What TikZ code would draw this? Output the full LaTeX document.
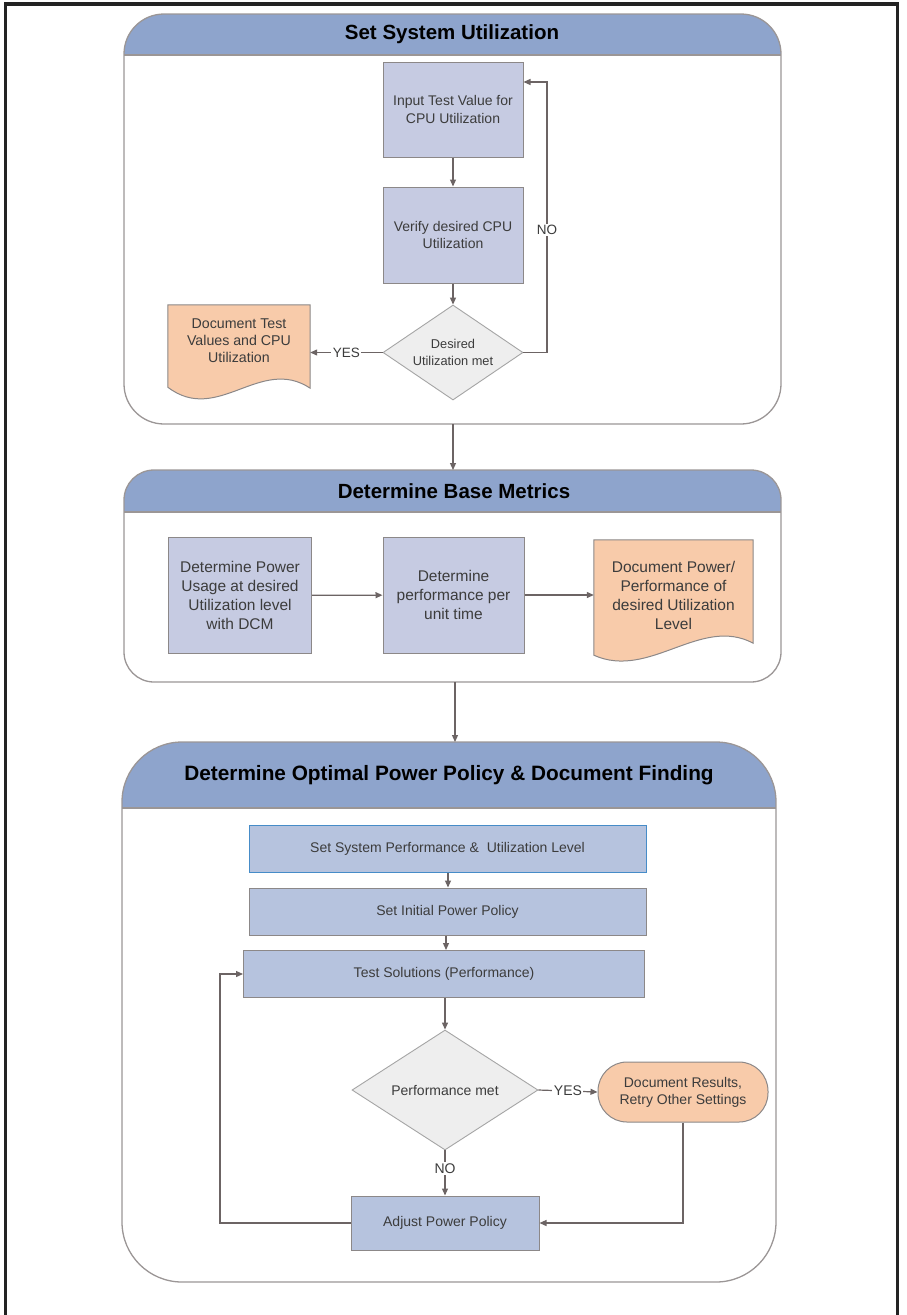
\documentclass[tikz,border=0pt]{standalone}
\usepackage{fontspec}
\setmainfont{Liberation Sans}
\usetikzlibrary{arrows.meta,shapes.geometric,calc}
\pgfdeclarelayer{bg}\pgfdeclarelayer{mid}
\pgfsetlayers{bg,mid,main}
\definecolor{hdr}{RGB}{142,164,204}
\definecolor{boxA}{RGB}{198,203,226}
\definecolor{boxB}{RGB}{182,195,222}
\definecolor{dia}{RGB}{238,238,238}
\definecolor{org}{RGB}{248,203,170}
\definecolor{edgec}{RGB}{140,136,136}
\definecolor{decedge}{RGB}{165,165,165}
\definecolor{connc}{RGB}{108,100,100}
\definecolor{txt}{RGB}{60,60,60}
\definecolor{framec}{RGB}{35,35,35}
\definecolor{secc}{RGB}{155,150,150}
\definecolor{bluedge}{RGB}{70,140,200}
\newcommand\myfs[2]{\fontsize{#1}{#2}\selectfont}
\tikzset{
 conn/.style={draw=connc, line width=1.2pt},
 arr/.style={conn, -{Triangle[length=7pt,width=6pt]}},
 procA/.style={draw=edgec, fill=boxA, line width=1pt, text=txt, align=center, inner sep=0pt},
 procB/.style={procA, fill=boxB},
 dec/.style={diamond, draw=decedge, fill=dia, line width=0.9pt, inner sep=0pt},
 doctext/.style={text=txt, align=center, inner sep=0pt},
 docshape/.style={draw=edgec, fill=org, line width=1pt},
 lbl/.style={text=txt, font=\myfs{13.5}{16}, fill=white, inner sep=1.5pt},
 title/.style={font=\bfseries\myfs{20.5}{24}, text=black},
 secline/.style={draw=secc, line width=1.3pt},
}
\begin{document}
\begin{tikzpicture}[x=1pt,y=-1pt]
\useasboundingbox (0,0) rectangle (906,1315);
% outer frame
\draw[framec, line width=3.5pt, line join=miter] (5.5,1320) -- (5.5,4) -- (897.5,4) -- (897.5,1320);

% section containers
\begin{pgfonlayer}{bg}
\begin{scope}
\clip[rounded corners=40] (124,14) rectangle (781,424);
\fill[white] (124,14) rectangle (781,424);
\fill[hdr] (124,14) rectangle (781,55);
\end{scope}
\draw[secline, rounded corners=40] (124,14) rectangle (781,424);
\draw[secline] (124,55) -- (781,55);

\begin{scope}
\clip[rounded corners=30] (124,470) rectangle (781,682);
\fill[white] (124,470) rectangle (781,682);
\fill[hdr] (124,470) rectangle (781,512);
\end{scope}
\draw[secline, rounded corners=30] (124,470) rectangle (781,682);
\draw[secline] (124,512) -- (781,512);

\begin{scope}
\clip[rounded corners=60] (122,742) rectangle (776,1282);
\fill[white] (122,742) rectangle (776,1282);
\fill[hdr] (122,742) rectangle (776,808);
\end{scope}
\draw[secline, rounded corners=60] (122,742) rectangle (776,1282);
\draw[secline] (122,808) -- (776,808);
\end{pgfonlayer}

% titles
\node[title] (ttl1) at (452,34) {Set System Utilization};
\node[title] (ttl2) at (454,491) {Determine Base Metrics};
\node[title, font=\bfseries\myfs{20.8}{24}] (ttl3) at (449,775) {Determine Optimal Power Policy \& Document Finding};

\coordinate (s1b) at (453,424);
\coordinate (s2t) at (453,470);
\coordinate (s2b) at (455,682);
\coordinate (s3t) at (455,742);

% ---------- section 1
\node[procA, font=\myfs{14}{17.5}, minimum width=140pt, minimum height=95pt] (in) at (453,109.5) {Input Test Value for\\CPU Utilization};
\node[procA, font=\myfs{14}{17.5}, minimum width=140pt, minimum height=96pt] (ver) at (453,235) {Verify desired CPU\\Utilization};
\node[dec, minimum width=140pt, minimum height=95pt, label={[doctext, font=\myfs{12.8}{17}]center:{Desired\\Utilization met}}] (d1) at (453,352.5) {};
\node[doctext, font=\myfs{14.2}{17}, minimum width=142pt, minimum height=72pt] (doc1) at (239,341) {Document Test\\Values and CPU\\Utilization};
\begin{pgfonlayer}{mid}
\path[docshape] (doc1.north west) -- (doc1.north east) -- ($(doc1.south east)+(0,11)$)
  .. controls ($(doc1.south west)!0.65!(doc1.south east)+(0,-22)$) and ($(doc1.south west)!0.35!(doc1.south east)+(0,48)$) .. ($(doc1.south west)+(0,10)$) -- cycle;
\end{pgfonlayer}

\draw[arr] (in) -- (ver);
\draw[arr] (ver) -- (d1);
\coordinate (noturn) at (547,82);
\draw[arr] (d1.east) -| (noturn) -- (noturn -| in.east);
\node[lbl] (nolbl1) at (547,230) {NO};
\draw[arr] (d1.west) -- node[lbl] (yeslbl1) {YES} (d1.west -| doc1.east);

\draw[arr] (s1b) -- (s2t);

% ---------- section 2
\node[procA, font=\myfs{15.5}{19}, minimum width=143pt, minimum height=116pt] (p1) at (240,595.5) {Determine Power\\Usage at desired\\Utilization level\\with DCM};
\node[procA, font=\myfs{15.5}{19}, minimum width=141pt, minimum height=116pt] (p2) at (453.5,595) {Determine\\performance per\\unit time};
\node[doctext, font=\myfs{15.5}{19}, minimum width=159pt, minimum height=110pt] (doc2) at (673.5,595) {Document Power/\\Performance of\\desired Utilization\\Level};
\begin{pgfonlayer}{mid}
\path[docshape] (doc2.north west) -- (doc2.north east) -- ($(doc2.south east)+(0,-7)$)
  .. controls ($(doc2.south west)!0.67!(doc2.south east)+(0,-35)$) and ($(doc2.south west)!0.35!(doc2.south east)+(0,30)$) .. ($(doc2.south west)+(0,5)$) -- cycle;
\end{pgfonlayer}
\draw[arr] (p1) -- (p2);
\draw[arr] (p2.east) -- (p2.east -| doc2.west);

\draw[arr] (s2b) -- (s3t);

% ---------- section 3
\node[procB, draw=bluedge, font=\myfs{14}{17}, minimum width=397pt, minimum height=47pt] (t1) at (447.5,848.5) {Set System Performance \&\ \ Utilization Level};
\node[procB, font=\myfs{14}{17}, minimum width=397pt, minimum height=47pt] (t2) at (447.5,911.5) {Set Initial Power Policy};
\node[procB, font=\myfs{14}{17}, minimum width=401pt, minimum height=47pt] (t3) at (444,974) {Test Solutions (Performance)};
\node[dec, minimum width=186pt, minimum height=120pt, label={[doctext, font=\myfs{14}{17}]center:{Performance met}}] (d2) at (445,1090) {};
\node[draw=edgec, fill=org, line width=1pt, rounded corners=29pt, minimum width=170pt, minimum height=60pt, text=txt, align=center, inner sep=0pt, font=\myfs{14}{17}] (ov) at (683,1092) {Document Results,\\Retry Other Settings};
\node[procB, font=\myfs{14}{17}, minimum width=188pt, minimum height=54pt] (adj) at (445,1223) {Adjust Power Policy};

\draw[arr] (t1.south -| 448,0) -- (t2.north -| 448,0);
\draw[arr] (t2.south -| 446,0) -- (t3.north -| 446,0);
\draw[arr] (t3.south -| d2.north) -- (d2.north);
\draw[arr] (d2.east) -- node[lbl, font=\myfs{14}{16}] (yeslbl2) {YES} (ov.west);
\draw[arr] (d2.south) -- node[lbl, font=\myfs{14}{16}, pos=0.4] (nolbl2) {NO} (adj.north);
\draw[arr] (ov.south) |- (adj.east);
\coordinate (lp) at (220,0);
\draw[arr] (adj.west) -- (adj.west -| lp) |- (t3.west);
\end{tikzpicture}
\end{document}
